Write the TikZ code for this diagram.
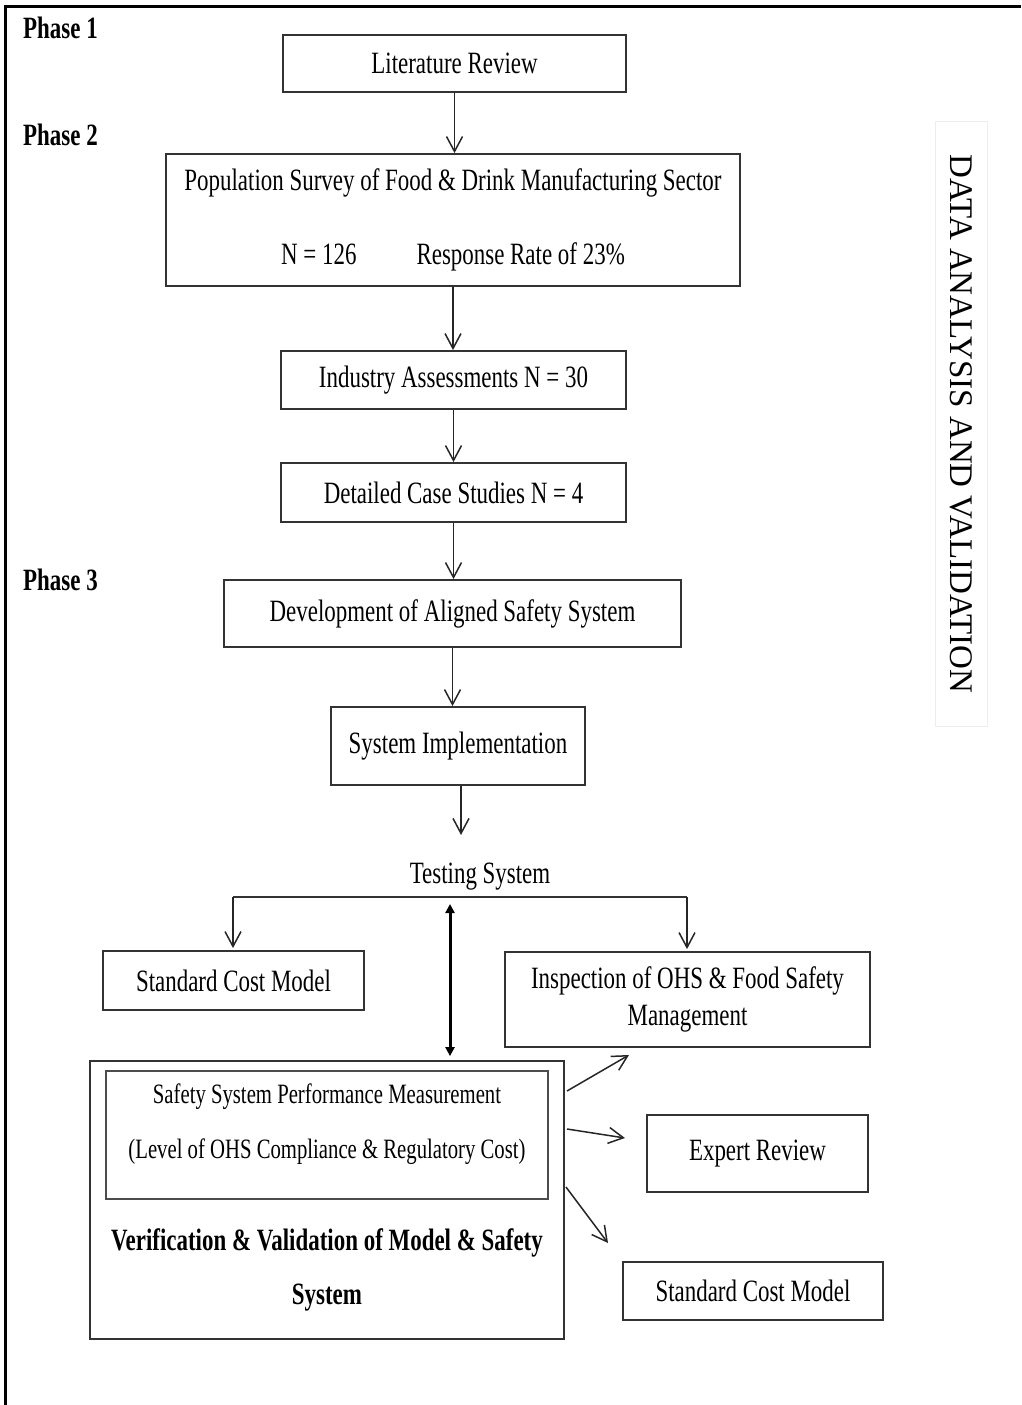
\documentclass[tikz,border=0pt]{standalone}
\usepackage{fontspec}
\setmainfont{Liberation Serif}[FakeStretch=0.74]
\newfontfamily\uprightserif{Liberation Serif}
\usetikzlibrary{arrows.meta,calc}

\newcommand\bodysize{\fontsize{31bp}{37bp}\selectfont}
\newcommand\meassize{\fontsize{28bp}{55bp}\selectfont}
\newcommand\vvsize{\fontsize{31bp}{54bp}\selectfont}
\newcommand\phasesize{\fontsize{31bp}{36bp}\selectfont}
\newcommand\sidesize{\fontsize{33bp}{38bp}\selectfont}

\begin{document}
\begin{tikzpicture}[x=1bp,y=-1bp,
  box/.style={draw=black!80, line width=1.8bp, inner sep=0pt, font=\bodysize, align=center},
  arr/.style={line width=1.5bp, draw=black!85, -{Straight Barb[length=15bp,width=16bp,line width=1.5bp]}},
  plainline/.style={line width=1.5bp, draw=black!80},
  dblarr/.style={line width=3bp, {Triangle[length=9bp,width=9bp]}-{Triangle[length=9bp,width=9bp]}},
  phase/.style={font=\phasesize\bfseries, inner sep=0pt, anchor=base west}]

\useasboundingbox (0,0) rectangle (1021,1405);

% page frame (top and left rules)
\draw[line width=3bp] (1021,7) -- (5,7) -- (5,1405);

% phase labels
\node[phase] (ph1) at (23,39) {Phase 1};
\node[phase] (ph2) at (23,146) {Phase 2};
\node[phase] (ph3) at (23,590) {Phase 3};

% side caption
\node[draw=black!7, line width=1bp, rotate=-90, minimum width=605bp, minimum height=52bp,
      inner sep=0pt, font=\uprightserif\sidesize] (side) at (961,424) {DATA ANALYSIS AND VALIDATION};

% main chain
\node[box, minimum width=343bp, minimum height=57bp] (lit) at (454.5,63.5) {Literature Review};
\node[box, minimum width=574bp, minimum height=132bp] (pop) at (453,220)
  {Population Survey of Food \& Drink Manufacturing Sector\\[37bp]
   N = 126\hspace{60bp}Response Rate of 23\%};
\node[box, minimum width=345bp, minimum height=58bp] (ind) at (453.5,380) {Industry Assessments N = 30};
\node[box, minimum width=345bp, minimum height=59bp] (det) at (453.5,492.5) {Detailed Case Studies N = 4};
\node[box, minimum width=457bp, minimum height=67bp] (dev) at (452.5,613.5) {Development of Aligned Safety System};
\node[box, minimum width=254bp, minimum height=78bp] (impl) at (458,746) {\raisebox{7bp}{System Implementation}};
\node[font=\bodysize, inner sep=0pt] (test) at (480,877) {Testing System};

\draw[arr] (lit.south) -- (lit.south |- pop.north);
\draw[arr] (pop.south) -- (pop.south |- ind.north);
\draw[arr] (ind.south) -- (ind.south |- det.north);
\draw[arr] (det.south) -- (det.south |- dev.north);
\draw[arr] (dev.south) -- (dev.south |- impl.north);
\coordinate (testin) at (461,835);
\draw[arr] (impl.south -| testin) -- (testin);

% testing branches
\node[box, minimum width=261bp, minimum height=59bp] (scmL) at (233.5,980.5) {Standard Cost Model};
\node[box, minimum width=365bp, minimum height=95bp] (insp) at (687.5,999.5)
  {Inspection of OHS \& Food Safety\\Management};
\coordinate (busL) at (233,897);
\coordinate (busR) at (687,897);
\draw[plainline] (busL) -- (busR);
\draw[arr, shorten >=2bp] (busL) -- (busL |- scmL.north);
\draw[arr, shorten >=2bp] (busR) -- (busR |- insp.north);

% verification block
\node[draw=black!80, line width=1.8bp, minimum width=474bp, minimum height=278bp, inner sep=0pt] (verif) at (327,1200) {};
\node[draw=black!70, line width=1.5bp, minimum width=442bp, minimum height=128bp, inner sep=0pt] (inner) at (327,1135) {};
\node[font=\meassize, align=center, inner sep=0pt] (meas) at (327,1124.5)
  {Safety System Performance Measurement\\(Level of OHS Compliance \& Regulatory Cost)};
\node[font=\vvsize\bfseries, align=center, inner sep=0pt] (vv) at (327,1270)
  {Verification \& Validation of Model \& Safety\\System};

\coordinate (dtop) at (450,904);
\draw[dblarr] (dtop) -- ($(dtop |- verif.north)+(0,-4)$);

% outputs of the verification block
\node[box, minimum width=221bp, minimum height=77bp] (expert) at (757.5,1153.5) {\raisebox{6bp}{Expert Review}};
\node[box, minimum width=260bp, minimum height=58bp] (scmR) at (753,1291) {Standard Cost Model};

\coordinate (o1) at (567,1091);
\coordinate (t1) at (629,1055);
\coordinate (o2) at (567,1129);
\coordinate (t2) at (625,1138);
\coordinate (o3) at (566,1187);
\coordinate (t3) at (608,1243);
\draw[arr] (o1) -- (t1);
\draw[arr] (o2) -- (t2);
\draw[arr] (o3) -- (t3);
\end{tikzpicture}
\end{document}
